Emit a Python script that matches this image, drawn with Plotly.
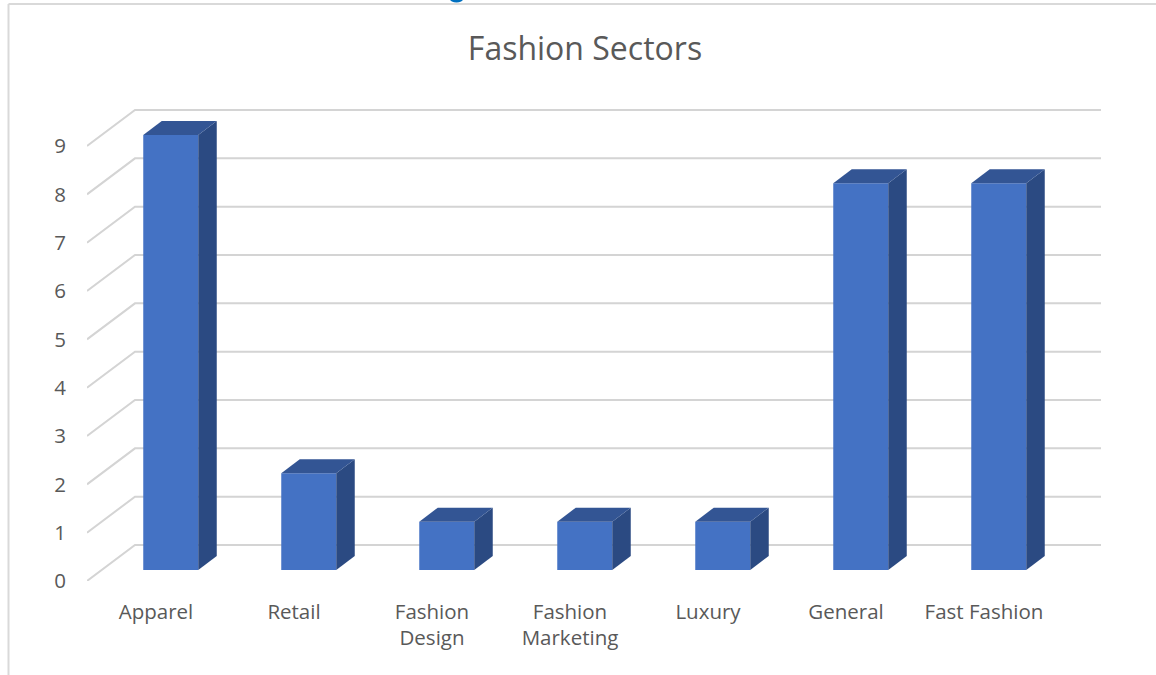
import plotly.graph_objects as go

# Chart data
categories = ["Apparel", "Retail", "Fashion<br>Design", "Fashion<br>Marketing", "Luxury", "General", "Fast Fashion"]
values = [9, 2, 1, 1, 1, 8, 8]
y_ticks = list(range(10))

# Page geometry in pixels
W, H = 1156, 675
PLOT_L, PLOT_R, PLOT_T, PLOT_B = 87, 1110, 100, 581
BAND = 138.0          # pixels per category
UNIT = 48.33          # pixels per value unit

# Oblique projection, converted to axis units
FLOOR_DX = 48 / BAND
FLOOR_DY = 36 / UNIT
BAR_DX = 18.5 / BAND
BAR_DY = 14 / UNIT
BAR_W = 55 / BAND
BAR_X0 = 14.75 / BAND   # near edge shift of the bar centre from the band centre
BAR_BASE = 11 / UNIT

x_range = [-0.5, -0.5 + (PLOT_R - PLOT_L) / BAND]
y_range = [0, (PLOT_B - PLOT_T) / UNIT]

FRONT, SIDE, TOP = "#4472C4", "#2B4A82", "#335594"
GRID, TEXT = "#D4D4D4", "#595959"
FONT = "Open Sans"
LABEL_SIZE = 20.5


def paper_x(px):
    return (px - PLOT_L) / (PLOT_R - PLOT_L)


def paper_y(px):
    return (PLOT_B - px) / (PLOT_B - PLOT_T)


fig = go.Figure()

# Floor-to-wall gridlines behind the bars
for v in y_ticks:
    fig.add_trace(go.Scatter(
        x=[-0.5, -0.5 + FLOOR_DX, 6.5 + FLOOR_DX],
        y=[v, v + FLOOR_DY, v + FLOOR_DY],
        mode="lines", line=dict(color=GRID, width=2),
        hoverinfo="skip", showlegend=False, zorder=0,
    ))

# Front faces
fig.add_trace(go.Bar(
    x=[i + BAR_X0 for i in range(len(values))],
    y=values, base=BAR_BASE, width=BAR_W,
    marker=dict(color=FRONT, line=dict(width=0)),
    showlegend=False, zorder=1,
))

# Side and top faces of each column
for i, v in enumerate(values):
    left = i + BAR_X0 - BAR_W / 2
    right = i + BAR_X0 + BAR_W / 2
    low = BAR_BASE
    high = v + BAR_BASE
    fig.add_trace(go.Scatter(
        x=[right, right + BAR_DX, right + BAR_DX, right, right],
        y=[low, low + BAR_DY, high + BAR_DY, high, low],
        mode="lines", fill="toself", fillcolor=SIDE, line=dict(width=0, color=SIDE),
        hoverinfo="skip", showlegend=False, zorder=2,
    ))
    fig.add_trace(go.Scatter(
        x=[left, left + BAR_DX, right + BAR_DX, right, left],
        y=[high, high + BAR_DY, high + BAR_DY, high, high],
        mode="lines", fill="toself", fillcolor=TOP, line=dict(width=0, color=TOP),
        hoverinfo="skip", showlegend=False, zorder=2,
    ))

# Outer chart frame: top and left edges only
fig.add_shape(type="line", xref="paper", yref="paper",
              x0=paper_x(8.5), x1=paper_x(W), y0=paper_y(4), y1=paper_y(4),
              line=dict(color="#D9D9D9", width=2))
fig.add_shape(type="line", xref="paper", yref="paper",
              x0=paper_x(8.5), x1=paper_x(8.5), y0=paper_y(4), y1=paper_y(H),
              line=dict(color="#D9D9D9", width=2))

# Small blue sliver along the top edge of the page
fig.add_shape(type="circle", xref="paper", yref="paper",
              x0=paper_x(450), x1=paper_x(463), y0=paper_y(-4), y1=paper_y(2.5),
              fillcolor="#0070C0", line=dict(width=0))

fig.update_layout(
    width=W, height=H, autosize=False,
    margin=dict(l=PLOT_L, r=W - PLOT_R, t=PLOT_T, b=H - PLOT_B),
    paper_bgcolor="white", plot_bgcolor="white",
    title=dict(text="Fashion Sectors", x=585 / W, xanchor="center", y=1 - 49 / H, yanchor="middle",
               font=dict(family=FONT, size=32, color=TEXT)),
    font=dict(family=FONT, color=TEXT),
    showlegend=False,
    xaxis=dict(range=x_range, tickvals=list(range(len(categories))), ticktext=categories,
               showgrid=False, zeroline=False, showline=False,
               ticks="outside", ticklen=12, tickcolor="rgba(0,0,0,0)",
               tickangle=0, tickfont=dict(family=FONT, size=LABEL_SIZE, color=TEXT)),
    yaxis=dict(range=y_range, tickvals=y_ticks,
               showgrid=False, zeroline=False, showline=False,
               ticks="outside", ticklen=16, tickcolor="rgba(0,0,0,0)",
               tickfont=dict(family=FONT, size=LABEL_SIZE, color=TEXT)),
)

fig.write_html("out.html")
